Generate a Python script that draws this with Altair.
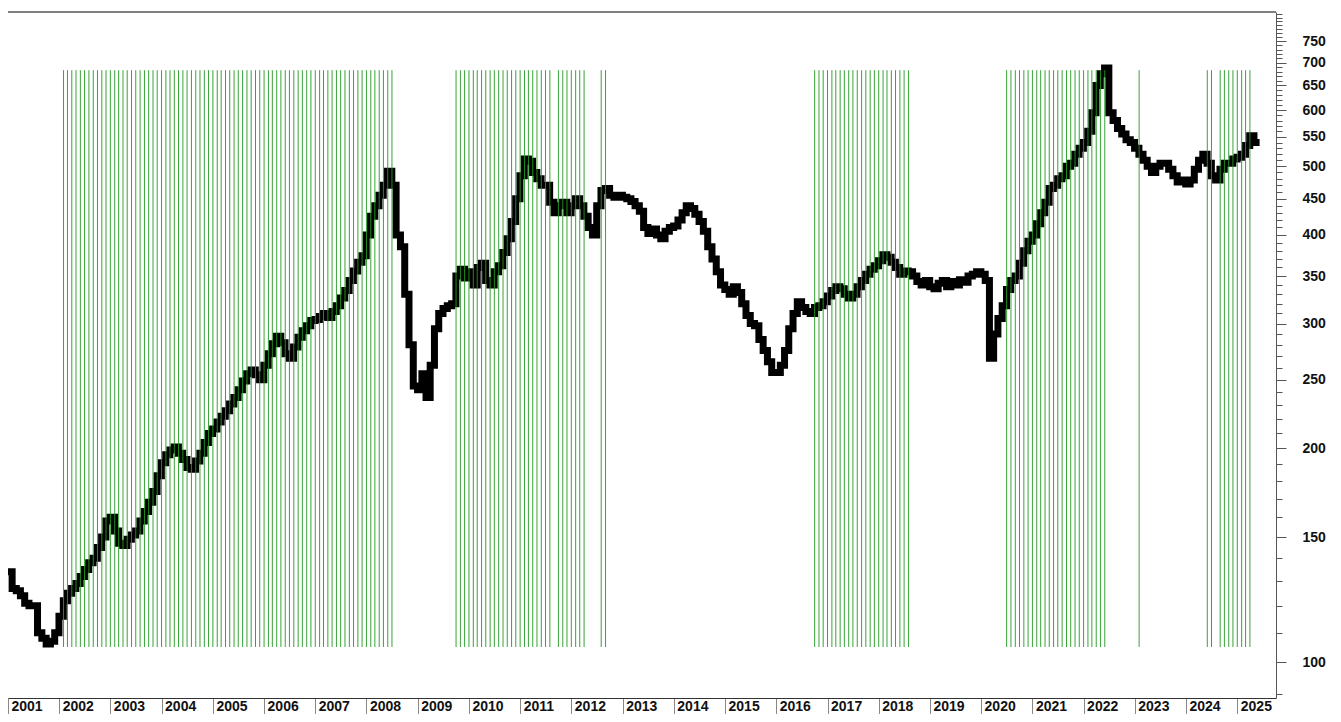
import altair as alt
import pandas as pd

# ---------------- data (monthly closes) ----------------
FIRST_YEAR = 2001
p2001 = [134, 127, 126, 124, 121, 120, 120, 110, 108, 106, 107, 110]
p2002 = [116, 122, 125, 127, 129, 132, 135, 138, 140, 145, 150, 158]
p2003 = [160, 153, 147, 146, 149, 151, 153, 158, 163, 168, 174, 183]
p2004 = [191, 196, 199, 201, 197, 193, 188, 187, 192, 197, 204, 210]
p2005 = [213, 218, 222, 226, 231, 236, 242, 249, 255, 258, 254, 250]
p2006 = [262, 272, 281, 288, 282, 272, 268, 278, 287, 293, 298, 303]
p2007 = [304, 307, 310, 306, 312, 318, 326, 334, 345, 356, 366, 374]
p2008 = [400, 425, 440, 455, 470, 492, 470, 400, 385, 330, 280, 245]
p2009 = [242, 255, 236, 262, 295, 310, 315, 318, 320, 350, 358, 348]
p2010 = [355, 340, 360, 365, 345, 340, 355, 362, 378, 395, 418, 450]
p2011 = [485, 512, 508, 490, 480, 470, 470, 445, 430, 440, 445, 430]
p2012 = [440, 450, 440, 425, 410, 400, 440, 462, 465, 455, 452, 455]
p2013 = [452, 450, 446, 440, 432, 410, 402, 408, 400, 395, 405, 410]
p2014 = [412, 420, 430, 440, 436, 428, 418, 405, 385, 370, 355, 340]
p2015 = [335, 330, 338, 332, 320, 308, 300, 298, 285, 275, 265, 256]
p2016 = [256, 262, 275, 295, 310, 322, 316, 312, 310, 316, 318, 322]
p2017 = [328, 334, 338, 336, 330, 326, 330, 338, 345, 352, 358, 362]
p2018 = [368, 375, 372, 366, 360, 352, 356, 355, 350, 344, 340, 345]
p2019 = [338, 336, 342, 345, 338, 344, 340, 346, 343, 350, 352, 355]
p2020 = [352, 345, 268, 290, 305, 318, 335, 345, 350, 365, 380, 392]
p2021 = [400, 415, 430, 445, 465, 470, 480, 485, 500, 505, 520, 530]
p2022 = [540, 560, 595, 650, 675, 688, 595, 580, 565, 555, 545, 540]
p2023 = [530, 520, 510, 500, 490, 500, 505, 505, 495, 485, 475, 478]
p2024 = [472, 478, 495, 510, 520, 505, 485, 478, 495, 505, 505, 512]
p2025 = [515, 520, 535, 552, 540]

yearly_prices = [p2001, p2002, p2003, p2004, p2005, p2006, p2007, p2008, p2009,
                 p2010, p2011, p2012, p2013, p2014, p2015, p2016, p2017, p2018,
                 p2019, p2020, p2021, p2022, p2023, p2024, p2025]

# monthly signal markers (green verticals): (first month, last month)
signal_periods = [("2002-02", "2008-07"), ("2009-10", "2012-04"),
                  ("2012-08", "2012-09"), ("2016-10", "2018-08"),
                  ("2020-07", "2022-06"), ("2023-02", "2023-02"),
                  ("2024-06", "2025-04")]
signal_gaps = ["2011-09", "2024-08"]
signal_top = 683
signal_bottom = 105

year_ticks = list(range(2001, 2026))
major_ticks = [100, 150, 200, 250, 300, 350, 400, 450, 500, 550, 600, 650, 700, 750]
minor_ticks = list(range(90, 830, 10))

# ---------------- tables ----------------
rows = []
for i, months in enumerate(yearly_prices):
    y = FIRST_YEAR + i
    for m, v in enumerate(months):
        rows.append({"date": f"{y}-{m + 1:02d}-15", "price": v})
price_df = pd.DataFrame(rows)

sig = []
for a, b in signal_periods:
    for d in pd.period_range(a, b, freq="M"):
        s = str(d)
        if s not in signal_gaps:
            sig.append({"date": s + "-01", "top": signal_top, "bottom": signal_bottom})
sig_df = pd.DataFrame(sig)

W, H = 1268, 686
FONT = "Liberation Sans"
major_test = "indexof(" + str(major_ticks) + ", datum.value) >= 0"

x_scale = alt.Scale(domain=["2001-01-01", "2025-10-04"])
y_scale = alt.Scale(type="log", domain=[88.97, 825], nice=False)

x_axis = alt.Axis(
    values=[f"{y}-01-01" for y in year_ticks], format="%Y", title=None,
    orient="bottom", grid=False, labelAlign="left", labelBaseline="top",
    labelOffset=3, labelPadding=-15, tickSize=16, tickColor="#888",
    domainColor="#333", labelFont=FONT, labelFontSize=14,
    labelFontWeight="bold", labelColor="#111", labelOverlap=False,
    labelFlush=False,
)
y_axis = alt.Axis(
    values=minor_ticks, orient="right", title=None, grid=False,
    tickSize={"condition": {"test": major_test, "value": 10}, "value": 6},
    labelExpr=major_test + " ? format(datum.value, 'd') : ''",
    labelPadding=16, labelFont=FONT, labelFontSize=14, labelFontWeight="bold",
    labelColor="#111", domainColor="#555", tickColor="#555",
    labelOverlap=False, labelFlush=False,
)

line = alt.Chart(price_df).mark_line(
    color="black", strokeWidth=7, interpolate="step", strokeCap="square"
).encode(
    x=alt.X("date:T", scale=x_scale, axis=x_axis),
    y=alt.Y("price:Q", scale=y_scale, axis=y_axis),
)

rules = alt.Chart(sig_df).mark_rule(color="#229922", strokeWidth=1, opacity=0.9).encode(
    x="date:T",
    y="top:Q",
    y2="bottom:Q",
)

top_border = alt.Chart(pd.DataFrame({"k": [0]})).mark_rule(color="black", strokeWidth=1).encode(
    x=alt.value(0), x2=alt.value(W), y=alt.value(0)
)

chart = alt.layer(line, rules, top_border).properties(
    width=W, height=H,
    autosize=alt.AutoSizeParams(type="none"),
    padding={"left": 0, "top": 4, "right": 57, "bottom": 16},
    background="white",
).configure_view(strokeWidth=0)

chart.save("out.html", embed_options={"renderer": "svg", "actions": False})
